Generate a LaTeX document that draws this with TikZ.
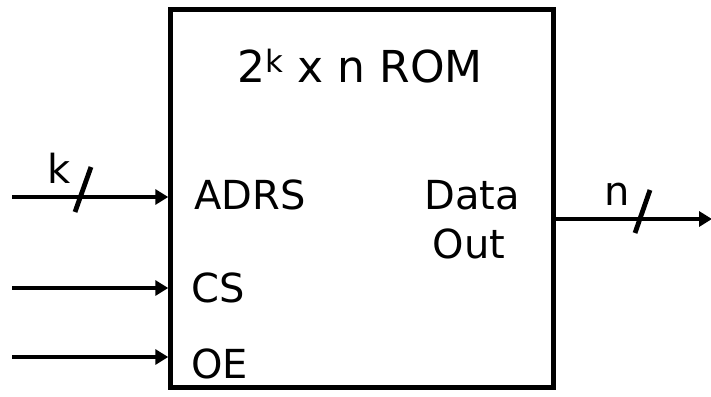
\documentclass[tikz,border=0pt]{standalone}
\usepackage{fontspec}
\setmainfont{DejaVu Sans}
\usetikzlibrary{arrows.meta}
\begin{document}
\begin{tikzpicture}[x=1pt,y=-1pt,
  lbl/.style={font=\fontsize{40}{40}\selectfont, inner sep=0pt},
  wire/.style={line width=4.8pt, -{Triangle[length=13pt,width=15pt]}},
  bus/.style={line width=4.8pt}]
\useasboundingbox (0,0) rectangle (711,396);
\node[draw, line width=5pt, minimum width=383pt, minimum height=377pt, inner sep=0pt] (rom) at (362.25,198.5) {};
\node[lbl, font=\fontsize{44}{44}\selectfont, anchor=base] (title) at (360,82) {2\textsuperscript{k} x n ROM};
\node[lbl, anchor=base west] (adrs) at (194,209) {ADRS};
\node[lbl, anchor=base west] (cs) at (191,302) {CS};
\node[lbl, anchor=base west] (oe) at (191,378) {OE};
\node[lbl, anchor=base] (data) at (472,209) {Data};
\node[lbl, anchor=base] (out) at (469,258) {Out};
\coordinate (ia) at (12,197);
\coordinate (ic) at (12,288);
\coordinate (io) at (12,357);
\coordinate (oo) at (712,219);
\draw[wire] (ia) -- (ia -| rom.west);
\draw[wire] (ic) -- (ic -| rom.west);
\draw[wire] (io) -- (io -| rom.west);
\draw[wire] (oo -| rom.east) -- (oo);
\draw[bus] (75,212) -- (91,167);
\draw[bus] (635,233) -- (650,190);
\node[lbl, anchor=base] (k) at (59,183) {k};
\node[lbl, anchor=base] (n) at (617,205) {n};
\end{tikzpicture}
\end{document}
